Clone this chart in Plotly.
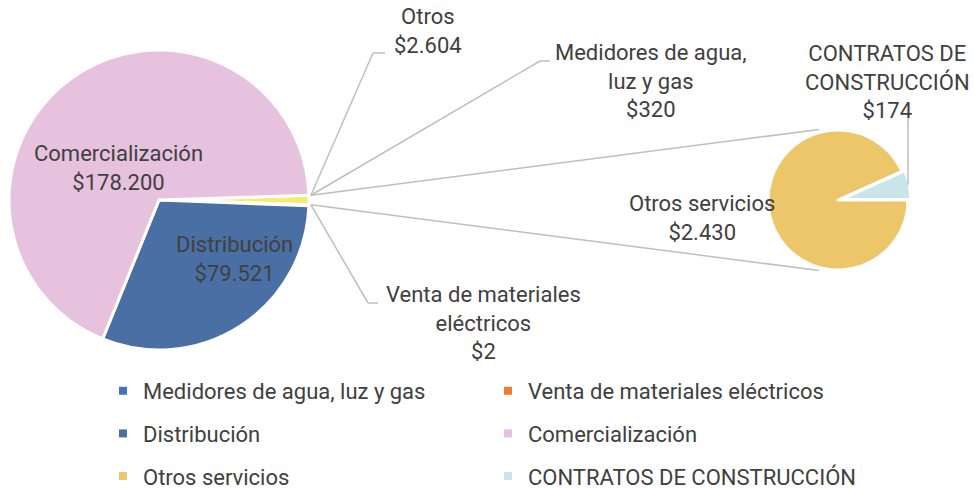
import math
import plotly.graph_objects as go

# ---------------- data ----------------
main_categories = ["Medidores de agua, luz y gas", "Venta de materiales eléctricos",
                   "Distribución", "Comercialización"]
main_values = [320, 2, 79521, 178200]
sub_categories = ["Otros servicios", "CONTRATOS DE CONSTRUCCIÓN"]
sub_values = [2430, 174]
other_label = "Otros"
other_value = sum(sub_values)

legend_col1 = ["Medidores de agua, luz y gas", "Distribución", "Otros servicios"]
legend_col2 = ["Venta de materiales eléctricos", "Comercialización", "CONTRATOS DE CONSTRUCCIÓN"]

colors = {
    "Otros": "#F6EB6C",
    "Medidores de agua, luz y gas": "#4472C4",
    "Venta de materiales eléctricos": "#ED7D31",
    "Distribución": "#4A6FA5",
    "Comercialización": "#E6C2DE",
    "Otros servicios": "#EDC66A",
    "CONTRATOS DE CONSTRUCCIÓN": "#C9E5EA",
}
wrapped = {
    "Otros": "Otros",
    "Medidores de agua, luz y gas": "Medidores de agua,<br>luz y gas",
    "Venta de materiales eléctricos": "Venta de materiales<br>eléctricos",
    "Distribución": "Distribución",
    "Comercialización": "Comercialización",
    "Otros servicios": "Otros servicios",
    "CONTRATOS DE CONSTRUCCIÓN": "CONTRATOS DE<br>CONSTRUCCIÓN",
}

# ---------------- layout helpers ----------------
W, H = 974, 488
TEXT = "#404040"
LINE = "#BFBFBF"
FONT = "Roboto"
FS = 22


def px(x):
    return x / W


def py(y):
    return 1 - y / H


def money(v):
    return "$" + f"{v:,}".replace(",", ".")


# main pie geometry (pixels)
mcx, mcy, mr = 159, 200, 150
# secondary pie geometry
scx, scy, sr = 838, 200, 70
sub_pull = [0, 0.04]

pie_labels = [other_label] + main_categories
pie_values = [other_value] + main_values
total = sum(pie_values)
other_deg = 360 * other_value / total
rotation_main = 90 - other_deg / 2

fig = go.Figure()

fig.add_trace(go.Pie(
    labels=pie_labels, values=pie_values, sort=False, direction="clockwise",
    rotation=rotation_main, textinfo="none", showlegend=False,
    marker=dict(colors=[colors[l] for l in pie_labels], line=dict(color="white", width=3)),
    domain=dict(x=[px(mcx - mr), px(mcx + mr)], y=[py(mcy + mr), py(mcy - mr)]),
))

half = sr * (1 + max(sub_pull))
fig.add_trace(go.Pie(
    labels=sub_categories, values=sub_values, sort=False, direction="clockwise",
    rotation=90, textinfo="none", showlegend=False, pull=sub_pull,
    marker=dict(colors=[colors[l] for l in sub_categories], line=dict(color="white", width=3)),
    domain=dict(x=[px(scx - half), px(scx + half)], y=[py(scy + half), py(scy - half)]),
))

# legend entries (dummy traces)
for i, name in enumerate(legend_col1):
    fig.add_trace(go.Scatter(x=[None], y=[None], mode="markers", name=name,
                             marker=dict(symbol="square", size=8, color=colors[name]),
                             legend="legend", legendgroup="a%d" % i))
for i, name in enumerate(legend_col2):
    fig.add_trace(go.Scatter(x=[None], y=[None], mode="markers", name=name,
                             marker=dict(symbol="square", size=8, color=colors[name]),
                             legend="legend2", legendgroup="b%d" % i))


def on_circle(cx, cy, r, clock_deg):
    a = math.radians(clock_deg)
    return cx + r * math.sin(a), cy - r * math.cos(a)


shapes = []


def seg(p, q):
    shapes.append(dict(type="line", xref="paper", yref="paper",
                       x0=px(p[0]), y0=py(p[1]), x1=px(q[0]), y1=py(q[1]),
                       line=dict(color=LINE, width=1.5)))


top_corner = on_circle(mcx, mcy, mr + 2, rotation_main)
bot_corner = on_circle(mcx, mcy, mr + 2, rotation_main + other_deg)

# connector lines to secondary pie
seg(top_corner, on_circle(scx, scy, sr + 3, -15))
seg(bot_corner, on_circle(scx, scy, sr + 3, 195))

# leader lines
seg(top_corner, (373, 53)); seg((373, 53), (385, 53))
seg(top_corner, (540, 61)); seg((540, 61), (550, 61))
seg(bot_corner, (368, 303)); seg((368, 303), (378, 303))
sub_total = sum(sub_values)
c_start = 90 - 360 * sub_values[1] / sub_total
c_mid = (c_start + 90) / 2
off = sr * sub_pull[1]
cm = on_circle(scx, scy, sr + off, c_mid)
seg((908, cm[1]), (908, 117))

# data labels
label_pos = {
    "Otros": (428, 31),
    "Medidores de agua, luz y gas": (651, 81),
    "CONTRATOS DE CONSTRUCCIÓN": (887, 82),
    "Otros servicios": (702, 218),
    "Comercialización": (118, 168),
    "Distribución": (234, 259),
    "Venta de materiales eléctricos": (483, 323),
}
all_vals = dict(zip(pie_labels, pie_values))
all_vals.update(dict(zip(sub_categories, sub_values)))
annotations = []
for name, (x, y) in label_pos.items():
    annotations.append(dict(
        x=px(x), y=py(y), xref="paper", yref="paper", xanchor="center", yanchor="middle",
        text=wrapped[name] + "<br>" + money(all_vals[name]), showarrow=False,
        font=dict(family=FONT, size=FS, color=TEXT), align="center"))

legend_common = dict(font=dict(family=FONT, size=FS, color=TEXT), bgcolor="rgba(0,0,0,0)",
                     xanchor="left", yanchor="top", traceorder="grouped",
                     tracegroupgap=11, itemwidth=30, orientation="v")

fig.update_layout(
    width=W, height=H, margin=dict(l=0, r=0, t=0, b=0, autoexpand=False),
    paper_bgcolor="white", plot_bgcolor="white",
    font=dict(family=FONT, color=TEXT),
    xaxis=dict(visible=False), yaxis=dict(visible=False),
    shapes=shapes, annotations=annotations,
    legend=dict(x=px(103), y=py(370), **legend_common),
    legend2=dict(x=px(488), y=py(370), **legend_common),
)

fig.write_html("out.html", post_script="document.body.style.margin='0';",
               config={"displayModeBar": False})
